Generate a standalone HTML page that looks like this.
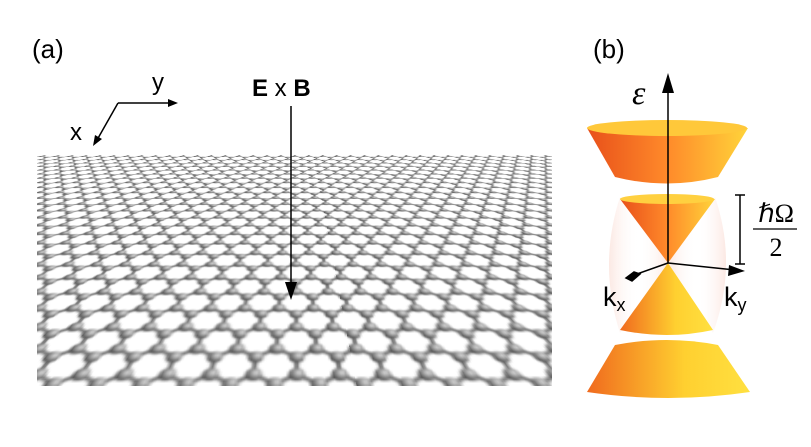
<!DOCTYPE html>
<html><head><meta charset="utf-8"><style>
html,body{margin:0;padding:0;background:#fff;}
#wrap{position:relative;width:811px;height:447px;overflow:hidden;font-family:"Liberation Sans",sans-serif;}
#sheetclip{position:absolute;left:37px;top:155px;width:515px;height:233px;overflow:hidden;clip-path:inset(0);perspective:412px;perspective-origin:257px 30px;}
#sheet{position:absolute;left:-1243px;top:-970px;width:3000px;height:1260px;transform-origin:50% 1000px;transform:rotateX(72deg);}
</style></head><body>
<div id="wrap">
<div id="sheetclip">
<div id="sheet">
<svg width="3000" height="1260" xmlns="http://www.w3.org/2000/svg">
<defs>
<radialGradient id="ball" cx="35%" cy="35%" r="65%"><stop offset="0" stop-color="#e0e0e0"/><stop offset="0.6" stop-color="#888"/><stop offset="1" stop-color="#4a4a4a"/></radialGradient>
<pattern id="hex" width="36" height="20.78" patternUnits="userSpaceOnUse" patternTransform="rotate(90) scale(0.86)">
<g stroke="#7a7a7a" stroke-width="2.6" fill="none">
<line x1="0" y1="10.39" x2="6" y2="0"/><line x1="6" y1="0" x2="18" y2="0"/><line x1="18" y1="0" x2="24" y2="10.39"/><line x1="24" y1="10.39" x2="36" y2="10.39"/><line x1="0" y1="10.39" x2="6" y2="20.78"/><line x1="6" y1="20.78" x2="18" y2="20.78"/><line x1="18" y1="20.78" x2="24" y2="10.39"/>
</g>
<circle cx="0" cy="10.39" r="4" fill="url(#ball)"/><circle cx="36" cy="10.39" r="4" fill="url(#ball)"/>
<circle cx="6" cy="0" r="4" fill="url(#ball)"/><circle cx="18" cy="0" r="4" fill="url(#ball)"/>
<circle cx="6" cy="20.78" r="4" fill="url(#ball)"/><circle cx="18" cy="20.78" r="4" fill="url(#ball)"/>
<circle cx="24" cy="10.39" r="4" fill="url(#ball)"/>
</pattern>
</defs>
<rect width="3000" height="1260" fill="url(#hex)"/>
</svg>
</div>
</div>
<svg width="811" height="447" style="position:absolute;left:0;top:0" xmlns="http://www.w3.org/2000/svg">
<defs>
<linearGradient id="org" x1="0" x2="1"><stop offset="0" stop-color="#e8501a"/><stop offset="0.5" stop-color="#ff8a2a"/><stop offset="1" stop-color="#ffd43a"/></linearGradient>
<linearGradient id="org2" x1="0" x2="1"><stop offset="0" stop-color="#f06a1e"/><stop offset="0.6" stop-color="#ffd030"/><stop offset="1" stop-color="#ffe040"/></linearGradient>
<linearGradient id="shell" x1="0" x2="1"><stop offset="0" stop-color="#fbe3dc" stop-opacity="0.8"/><stop offset="0.5" stop-color="#fff" stop-opacity="0"/><stop offset="1" stop-color="#fbe3dc" stop-opacity="0.8"/></linearGradient>
</defs>
<text x="32" y="58" font-size="26" fill="#000">(a)</text>
<text x="593" y="58" font-size="26" fill="#000">(b)</text>
<g stroke="#000" stroke-width="1.5" fill="#000">
<line x1="118" y1="103" x2="172" y2="103"/><polygon points="178,103 168,99 168,107" stroke="none"/>
<line x1="118" y1="103" x2="97" y2="140"/><polygon points="93,146 95,135 102,139" stroke="none"/>
</g>
<text x="152" y="90" font-size="24">y</text>
<text x="70" y="140" font-size="24">x</text>
<text x="252" y="96" font-size="24"><tspan font-weight="bold">E</tspan> x <tspan font-weight="bold">B</tspan></text>
<g><line x1="291" y1="106" x2="291" y2="285" stroke="#000" stroke-width="1.5"/><polygon points="291,300 285,282 297,282" fill="#000"/></g>
<g>
<path d="M620,197 Q598,265 620,333 L668,263 Z" fill="url(#shell)"/>
<path d="M715,197 Q738,265 713,333 L668,263 Z" fill="url(#shell)"/>
<path d="M587,128 L748,128 L718,177 Q667,190 615,177 Z" fill="url(#org)"/>
<ellipse cx="667" cy="128" rx="80" ry="8" fill="#ffc83a"/>
<path d="M620,199 L715,199 L668,263 Z" fill="url(#org)"/>
<ellipse cx="667" cy="199" rx="47" ry="5" fill="#ffd040"/>
<path d="M668,263 L713,330 Q667,340 620,330 Z" fill="url(#org2)"/>
<path d="M615,345 Q667,335 718,345 L750,392 Q668,404 587,392 Z" fill="url(#org2)"/>
</g>
<g><line x1="668" y1="263" x2="668" y2="90" stroke="#000" stroke-width="1.5"/><polygon points="668,73 662,93 674,93" fill="#000"/></g>
<text x="632" y="104" font-size="34" font-style="italic" font-family="Liberation Serif">ε</text>
<g stroke="#000" stroke-width="1.5"><line x1="668" y1="263" x2="634" y2="275"/><polygon points="626,278 634,272 640,274 632,281" fill="#000"/></g>
<g stroke="#000" stroke-width="1.5"><line x1="668" y1="263" x2="735" y2="270"/><polygon points="745,271 729,265 728,276" fill="#000" stroke="none"/></g>
<text x="603" y="306" font-size="27">k<tspan font-size="18" dy="5">x</tspan></text>
<text x="724" y="306" font-size="27">k<tspan font-size="18" dy="5">y</tspan></text>
<g stroke="#000" stroke-width="1.5"><line x1="740" y1="195" x2="740" y2="264"/><line x1="735" y1="195" x2="745" y2="195"/><line x1="735" y1="264" x2="745" y2="264"/></g>
<g font-family="Liberation Serif" font-size="26">
<text x="776" y="222" text-anchor="middle">ℏΩ</text>
<line x1="753" y1="229" x2="797" y2="229" stroke="#000" stroke-width="1.3"/>
<text x="776" y="256" text-anchor="middle">2</text>
</g>
</svg>
</div>
</body></html>
